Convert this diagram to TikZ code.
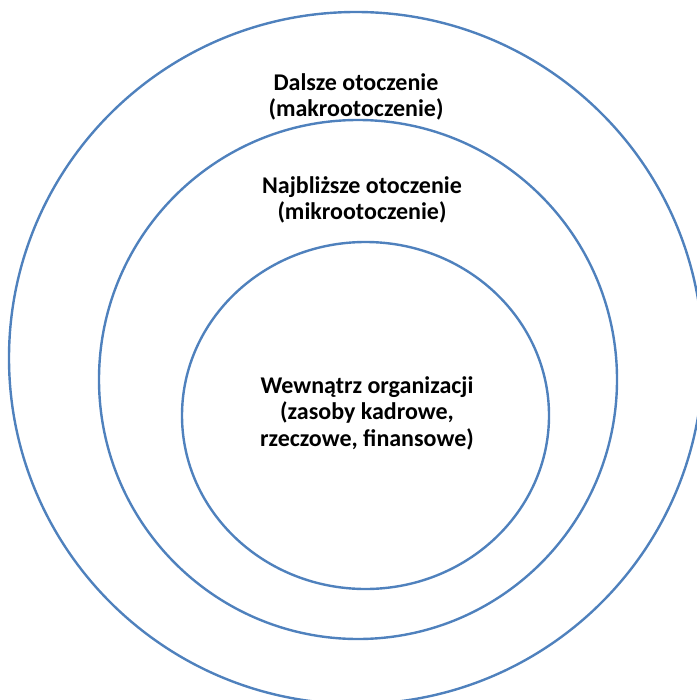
\documentclass[tikz,border=0pt]{standalone}
\usepackage{fontspec}
\setmainfont{Carlito}
\usetikzlibrary{shapes.geometric}
\definecolor{ringblue}{RGB}{79,129,189}
\begin{document}
\begin{tikzpicture}[x=1pt, y=-1pt, ring/.style={ellipse, draw=ringblue, line width=2.4pt, inner sep=0pt}]
        \tikzstyle{every node}=[font=\fontsize{24}{26.6}\selectfont\bfseries, align=center]
        \useasboundingbox (0,0) rectangle (696,700);

          \node[ring, minimum width=694, minimum height=692] (outer) at (356,358) {};
          \node[ring, minimum width=518, minimum height=519] (middle) at (358,379.5) {};
          \node[ring, minimum width=367, minimum height=347] (inner) at (365.5,415.5) {};

          \node[] (macro) at (356,97) {Dalsze otoczenie\\(makrootoczenie)};
          \node[] (micro) at (362,200) {Najbliższe otoczenie\\(mikrootoczenie)};
          \node[] (inside) at (367,413) {Wewnątrz organizacji\\(zasoby kadrowe,\\rzeczowe, finansowe)};

        \end{tikzpicture}
\end{document}
